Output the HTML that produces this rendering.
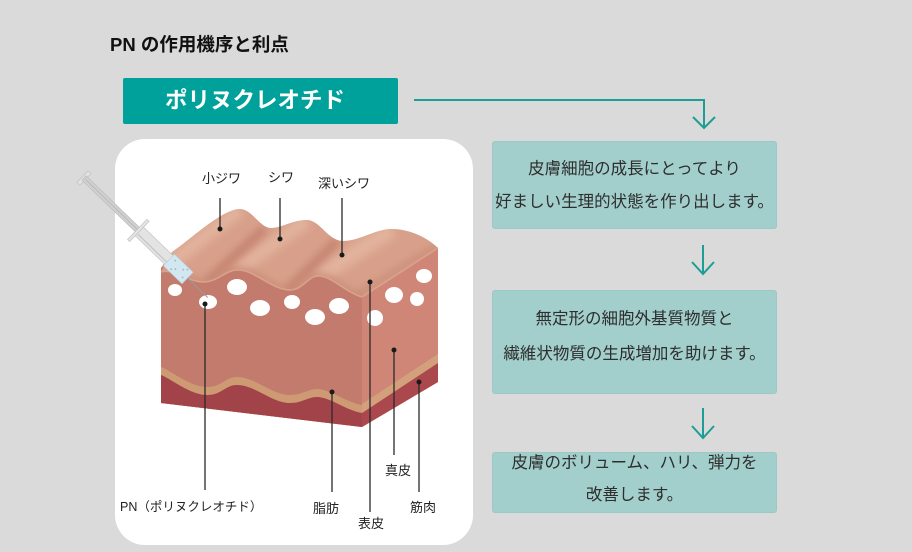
<!DOCTYPE html>
<html><head><meta charset="utf-8">
<style>
html,body{margin:0;padding:0;}
body{width:912px;height:552px;background:#dadada;position:relative;overflow:hidden;font-family:"Liberation Sans","Noto Sans CJK JP",sans-serif;}
.abs{position:absolute;}
.title{left:110px;top:34px;font-size:18.5px;font-weight:bold;color:#111;line-height:22px;white-space:nowrap;}
.tealbox{left:123px;top:78px;width:275px;height:46px;background:#00a19a;border-radius:2px;}
.tealtxt{left:123px;top:87px;width:264px;text-align:center;color:#fff;font-weight:bold;font-size:22.5px;line-height:28px;white-space:nowrap;}
.box{background:#a2cfcc;border:1px solid #9cc8c5;border-radius:3px;box-sizing:border-box;}
.ln{position:absolute;left:492px;width:285px;text-align:center;font-size:16.5px;color:#2e2e2e;white-space:nowrap;line-height:24px;}
</style></head><body>
<svg class="abs" style="left:0;top:0" width="912" height="552" viewBox="0 0 912 552" xmlns="http://www.w3.org/2000/svg">
<defs>
<clipPath id="topclip"><path d="M161,272 C175,268 188,282 203,282 C218,282 225,270 238,270 C255,270 272,290 290,290 C303,290 308,276 318,276 C332,276 345,292 362,297 L438,248 C428,238 410,229 392,229 C375,229 360,241 343,241 C328,241 320,220 307,220 C292,220 282,228 271,228 C260,228 252,209 240,209 C222,209 190,240 172,252 Z"/></clipPath>
<filter id="bl" x="-50%" y="-50%" width="200%" height="200%"><feGaussianBlur stdDeviation="4"/></filter>
</defs>
<!-- white panel -->
<rect x="115" y="139" width="358" height="406" rx="30" fill="#ffffff"/>
<!-- front face (drawn first, extends under top surface) -->
<path d="M161,268 L172,252 L362,292 L362,427 L161,403 Z" fill="#c27b6c"/>
<!-- top surface -->
<path d="M161,272 C175,268 188,282 203,282 C218,282 225,270 238,270 C255,270 272,290 290,290 C303,290 308,276 318,276 C332,276 345,292 362,297 L438,248 C428,238 410,229 392,229 C375,229 360,241 343,241 C328,241 320,220 307,220 C292,220 282,228 271,228 C260,228 252,209 240,209 C222,209 190,240 172,252 Z" fill="#d8a08a"/>
<g clip-path="url(#topclip)">
<line x1="164" y1="268" x2="240" y2="209" stroke="#e2b29c" stroke-width="14" filter="url(#bl)"/>
<line x1="237" y1="270" x2="307" y2="220" stroke="#e2b29c" stroke-width="14" filter="url(#bl)"/>
<line x1="318" y1="277" x2="392" y2="229" stroke="#e2b29c" stroke-width="16" filter="url(#bl)"/>
<line x1="207" y1="282" x2="265" y2="228" stroke="#c4836f" stroke-width="9" filter="url(#bl)"/>
<line x1="287" y1="291" x2="338" y2="240" stroke="#c4836f" stroke-width="9" filter="url(#bl)"/>
<line x1="355" y1="297" x2="438" y2="246" stroke="#cc907a" stroke-width="8" filter="url(#bl)"/>
<path d="M161,272 C175,268 188,282 203,282 C218,282 225,270 238,270 C255,270 272,290 290,290 C303,290 308,276 318,276 C332,276 345,292 362,297" fill="none" stroke="#c88a75" stroke-width="6" filter="url(#bl)"/>
</g>
<!-- front face body below top edge -->
<path d="M161,272 C175,268 188,282 203,282 C218,282 225,270 238,270 C255,270 272,290 290,290 C303,290 308,276 318,276 C332,276 345,292 362,297 L362,427 L161,403 Z" fill="#c27b6c"/>
<path d="M161,272 C175,268 188,282 203,282 C218,282 225,270 238,270 C255,270 272,290 290,290 C303,290 308,276 318,276 C332,276 345,292 362,297" fill="none" stroke="#d9a28c" stroke-width="1.6"/>
<!-- tan band front -->
<path d="M161,367 C170,370 190,387 207,387 C222,387 225,377 237,377 C255,377 272,395 290,395 C302,395 308,389 317,389 C330,389 345,402 362,405 L362,427 L161,403 Z" fill="#cd9a74"/>
<!-- dark red front -->
<path d="M161,375 C170,378 190,395 207,395 C222,395 225,385 237,385 C255,385 272,403 290,403 C302,403 308,397 317,397 C330,397 345,410 362,413 L362,427 L161,403 Z" fill="#a2434a"/>
<!-- right face -->
<polygon points="362,297 438,248 438,382 362,427" fill="#d08676"/>
<line x1="362" y1="297" x2="438" y2="248" stroke="#d9a28c" stroke-width="1.6"/>
<polygon points="362,404 438,354 438,382 362,427" fill="#d3a07c"/>
<polygon points="362,413 438,363 438,382 362,427" fill="#aa484d"/>
<!-- white dots -->
<g fill="#ffffff">
<ellipse cx="175" cy="290" rx="7" ry="6"/>
<ellipse cx="237" cy="287" rx="10" ry="8"/>
<ellipse cx="208" cy="302" rx="9" ry="7"/>
<ellipse cx="260" cy="308" rx="10" ry="8"/>
<ellipse cx="292" cy="302" rx="8" ry="7"/>
<ellipse cx="315" cy="317" rx="10" ry="8"/>
<ellipse cx="339" cy="306" rx="10" ry="8"/>
<ellipse cx="375" cy="318" rx="8" ry="8"/>
<ellipse cx="394" cy="295" rx="9" ry="8"/>
<ellipse cx="417" cy="299" rx="7" ry="7"/>
<ellipse cx="424" cy="276" rx="8" ry="7"/>
</g>
<!-- syringe -->
<g transform="translate(84,178) rotate(44)">
<rect x="-2" y="-8" width="4" height="16" fill="#e2e2e2" stroke="#bdbdbd" stroke-width="0.6"/>
<rect x="0" y="-3" width="78" height="6" fill="#d0d0d0" stroke="#b8b8b8" stroke-width="0.6"/>
<line x1="2" y1="0" x2="76" y2="0" stroke="#b5b5b5" stroke-width="0.8"/>
<rect x="76" y="-6" width="44" height="12" fill="#e3e3e3" stroke="#bdbdbd" stroke-width="0.6"/>
<line x1="78" y1="3" x2="118" y2="3" stroke="#c5c5c5" stroke-width="1.2"/>
<rect x="74" y="-14" width="3" height="28" fill="#e4e4e4" stroke="#bcbcbc" stroke-width="0.6"/>
<rect x="118" y="-8" width="26" height="16" fill="#d3e7f1" stroke="#b3cddb" stroke-width="0.6"/>
<g fill="#9fb8c6"><circle cx="123" cy="-4" r="0.9"/><circle cx="129" cy="2" r="0.9"/><circle cx="135" cy="-3" r="0.9"/><circle cx="140" cy="3" r="0.9"/><circle cx="126" cy="5" r="0.9"/><circle cx="138" cy="-6" r="0.9"/></g>
<line x1="144" y1="0" x2="172" y2="0" stroke="#9a9a9a" stroke-width="1"/>
</g>
<!-- label lines -->
<g stroke="#2a2a2a" stroke-width="1.3">
<line x1="220" y1="198" x2="220" y2="229"/>
<line x1="280" y1="198" x2="280" y2="239"/>
<line x1="342" y1="198" x2="342" y2="255"/>
<line x1="205" y1="304" x2="205" y2="490"/>
<line x1="332" y1="392" x2="332" y2="492"/>
<line x1="370" y1="282" x2="370" y2="512"/>
<line x1="394" y1="350" x2="394" y2="455"/>
<line x1="419" y1="382" x2="419" y2="492"/>
</g>
<g fill="#1a1a1a">
<circle cx="220" cy="229" r="2.5"/><circle cx="280" cy="239" r="2.5"/><circle cx="342" cy="255" r="2.5"/>
<circle cx="205" cy="304" r="2.5"/><circle cx="332" cy="392" r="2.5"/><circle cx="370" cy="282" r="2.5"/>
<circle cx="394" cy="350" r="2.5"/><circle cx="419" cy="382" r="2.5"/>
</g>
<g font-family="Liberation Sans, Noto Sans CJK JP, sans-serif" font-size="13" fill="#222">
<text x="202" y="183">小ジワ</text>
<text x="268" y="182">シワ</text>
<text x="318" y="188">深いシワ</text>
<text x="120" y="511" font-size="12.5">PN（ポリヌクレオチド）</text>
<text x="313" y="513">脂肪</text>
<text x="358" y="528">表皮</text>
<text x="385" y="475">真皮</text>
<text x="410" y="512">筋肉</text>
</g>
<!-- connectors -->
<g stroke="#1a9e95" stroke-width="2" fill="none">
<polyline points="414,100 704,100 704,128"/>
<polyline points="693,117 704,128 715,117"/>
<line x1="703" y1="245" x2="703" y2="274"/>
<polyline points="692,262 703,274 714,262"/>
<line x1="703" y1="408" x2="703" y2="438"/>
<polyline points="692,426 703,438 714,426"/>
</g>
</svg>

<div class="abs title">PN の作用機序と利点</div>
<div class="abs tealbox"></div>
<div class="abs tealtxt">ポリヌクレオチド</div>

<div class="abs box" style="left:492px;top:141px;width:285px;height:88px;"></div>
<div class="abs box" style="left:492px;top:290px;width:285px;height:104px;"></div>
<div class="abs box" style="left:492px;top:452px;width:285px;height:61px;"></div>

<div class="ln" style="top:157px;">皮膚細胞の成長にとってより</div>
<div class="ln" style="top:190px;">好ましい生理的状態を作り出します。</div>
<div class="ln" style="top:307px;">無定形の細胞外基質物質と</div>
<div class="ln" style="top:342px;">繊維状物質の生成増加を助けます。</div>
<div class="ln" style="top:451px;">皮膚のボリューム、ハリ、弾力を</div>
<div class="ln" style="top:483px;">改善します。</div>
</body></html>
